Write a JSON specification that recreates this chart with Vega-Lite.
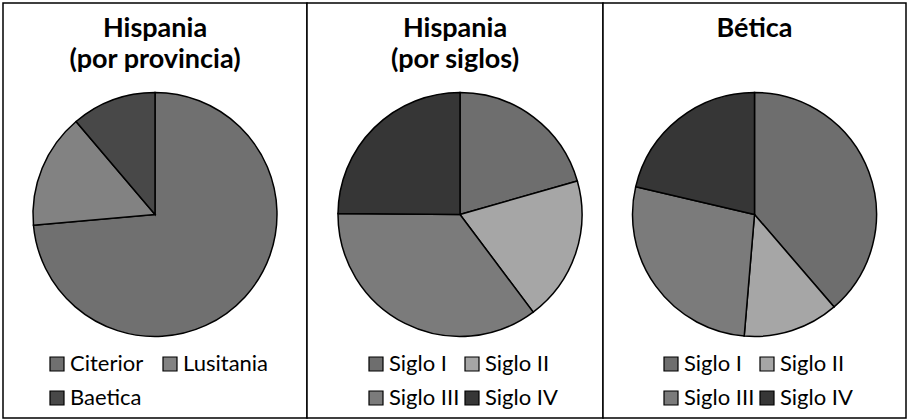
{
  "$schema": "https://vega.github.io/schema/vega-lite/v6.json",
  "background": "white",
  "padding": {"left": 2, "top": 2, "right": 2, "bottom": 2},
  "spacing": 0,
  "bounds": "flush",
  "config": {
    "font": "Lato",
    "view": {"stroke": null},
    "title": {"font": "Lato", "fontSize": 27, "fontWeight": "bold", "color": "black", "lineHeight": 31, "anchor": "middle", "frame": "group"},
    "legend": {"orient": "none", "direction": "horizontal", "columns": 2, "labelFont": "Lato", "labelFontSize": 22, "labelColor": "black", "symbolType": "square", "symbolSize": 196, "symbolStrokeColor": "black", "symbolStrokeWidth": 1.2, "symbolOpacity": 1, "labelOffset": 2, "rowPadding": 12, "columnPadding": 1, "title": null}
  },
  "resolve": {"scale": {"color": "independent"}, "legend": {"color": "independent"}},
  "datasets": {
    "marco": [{"panel": 1}],
    "provincia": [
      {"categoria": "Citerior", "valor": 73.6, "orden": 1},
      {"categoria": "Lusitania", "valor": 15.2, "orden": 2},
      {"categoria": "Baetica", "valor": 11.2, "orden": 3}
    ],
    "siglos": [
      {"categoria": "Siglo I", "valor": 20.6, "orden": 1},
      {"categoria": "Siglo II", "valor": 19.2, "orden": 2},
      {"categoria": "Siglo III", "valor": 35.4, "orden": 3},
      {"categoria": "Siglo IV", "valor": 24.9, "orden": 4}
    ],
    "betica": [
      {"categoria": "Siglo I", "valor": 38.8, "orden": 1},
      {"categoria": "Siglo II", "valor": 12.7, "orden": 2},
      {"categoria": "Siglo III", "valor": 27.4, "orden": 3},
      {"categoria": "Siglo IV", "valor": 21.4, "orden": 4}
    ]
  },
  "hconcat": [
    {
      "width": 304,
      "height": 415,
      "title": {"text": ["Hispania", "(por provincia)"], "offset": -72},
      "layer": [
        {
          "data": {"name": "marco"},
          "mark": {"type": "rect", "fill": "white", "stroke": "black", "strokeWidth": 1.5},
          "encoding": {"x": {"value": 0}, "x2": {"value": "width"}, "y": {"value": 0}, "y2": {"value": "height"}}
        },
        {
          "data": {"name": "provincia"},
          "mark": {"type": "arc", "outerRadius": 122, "stroke": "black", "strokeWidth": 1.5, "yOffset": 4},
          "encoding": {
            "theta": {"field": "valor", "type": "quantitative", "stack": true},
            "order": {"field": "orden", "type": "quantitative"},
            "color": {
              "field": "categoria", "type": "nominal",
              "scale": {"domain": ["Citerior", "Lusitania", "Baetica"], "range": ["#707070", "#828282", "#484848"]},
              "legend": {"legendX": 43, "legendY": 350, "columnPadding": 15}
            }
          }
        }
      ]
    },
    {
      "width": 296,
      "height": 415,
      "title": {"text": ["Hispania", "(por siglos)"], "offset": -72},
      "layer": [
        {
          "data": {"name": "marco"},
          "mark": {"type": "rect", "fill": "white", "stroke": "black", "strokeWidth": 1.5},
          "encoding": {"x": {"value": 0}, "x2": {"value": "width"}, "y": {"value": 0}, "y2": {"value": "height"}}
        },
        {
          "data": {"name": "siglos"},
          "mark": {"type": "arc", "outerRadius": 122, "stroke": "black", "strokeWidth": 1.5, "yOffset": 4, "xOffset": 5},
          "encoding": {
            "theta": {"field": "valor", "type": "quantitative", "stack": true},
            "order": {"field": "orden", "type": "quantitative"},
            "color": {
              "field": "categoria", "type": "nominal",
              "scale": {"domain": ["Siglo I", "Siglo II", "Siglo III", "Siglo IV"], "range": ["#6e6e6e", "#a6a6a6", "#7b7b7b", "#363636"]},
              "legend": {"legendX": 58, "legendY": 350}
            }
          }
        }
      ]
    },
    {
      "width": 303,
      "height": 415,
      "title": {"text": "Bética", "offset": -41},
      "layer": [
        {
          "data": {"name": "marco"},
          "mark": {"type": "rect", "fill": "white", "stroke": "black", "strokeWidth": 1.5},
          "encoding": {"x": {"value": 0}, "x2": {"value": "width"}, "y": {"value": 0}, "y2": {"value": "height"}}
        },
        {
          "data": {"name": "betica"},
          "mark": {"type": "arc", "outerRadius": 122, "stroke": "black", "strokeWidth": 1.5, "yOffset": 4},
          "encoding": {
            "theta": {"field": "valor", "type": "quantitative", "stack": true},
            "order": {"field": "orden", "type": "quantitative"},
            "color": {
              "field": "categoria", "type": "nominal",
              "scale": {"domain": ["Siglo I", "Siglo II", "Siglo III", "Siglo IV"], "range": ["#6e6e6e", "#a6a6a6", "#7b7b7b", "#363636"]},
              "legend": {"legendX": 57, "legendY": 350}
            }
          }
        }
      ]
    }
  ]
}
